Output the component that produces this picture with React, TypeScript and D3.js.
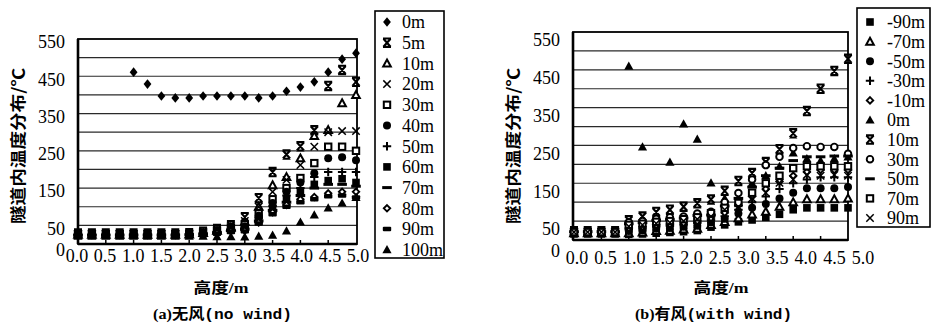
import React from 'react';
import * as d3 from 'd3';

// ---------- data ----------
const HEIGHTS = [0, 0.25, 0.5, 0.75, 1, 1.25, 1.5, 1.75, 2, 2.25, 2.5, 2.75, 3, 3.25, 3.5, 3.75, 4, 4.25, 4.5, 4.75, 5];
const X_TICKS = [0, 0.5, 1, 1.5, 2, 2.5, 3, 3.5, 4, 4.5, 5];
const Y_LABELS = [0, 50, 150, 250, 350, 450, 550];
const Y_GRID = [50, 100, 150, 200, 250, 300, 350, 400, 450, 500];

// (a) no wind
const A_NAMES = ['0m', '5m', '10m', '20m', '30m', '40m', '50m', '60m', '70m', '80m', '90m', '100m'];
const A_0m = [null, null, null, null, 461, 429, 397, 392, 392, 397, 397, 397, 397, 392, 397, 410, 421, 435, 461, 496, 512];
const A_5m = [28, 28, 28, 28, 28, 28, 28, 28, 29, 33, 40, 50, 72, 123, 193, 240, 262, 305, 424, 467, 435];
const A_10m = [25, 25, 25, 25, 25, 25, 25, 25, 26, 30, 36, 45, 60, 100, 158, 180, 230, 290, 306, 378, 400];
const A_20m = [27, 27, 27, 27, 27, 27, 27, 27, 28, 32, 38, 48, 62, 100, 140, 172, 212, 261, 300, 303, 303];
const A_30m = [26, 26, 26, 26, 26, 26, 26, 26, 27, 30, 35, 44, 52, 82, 120, 150, 177, 217, 261, 261, 250];
const A_40m = [26, 26, 26, 26, 26, 26, 26, 26, 27, 30, 35, 42, 47, 76, 110, 140, 165, 190, 230, 233, 225];
const A_50m = [25, 25, 25, 25, 25, 25, 25, 25, 26, 29, 33, 40, 44, 70, 102, 130, 150, 180, 193, 193, 193];
const A_60m = [25, 25, 25, 25, 25, 25, 25, 25, 26, 28, 32, 38, 42, 66, 96, 120, 140, 160, 170, 175, 165];
const A_70m = [24, 24, 24, 24, 24, 24, 24, 24, 25, 27, 31, 36, 40, 62, 90, 112, 130, 150, 160, 160, 155];
const A_80m = [24, 24, 24, 24, 24, 24, 24, 24, 25, 27, 30, 34, 36, 58, 85, 105, 120, 126, 136, 140, 140];
const A_90m = [23, 23, 23, 23, 23, 23, 23, 23, 24, 26, 28, 32, 34, 55, 80, 100, 112, 120, 128, 130, 125];
const A_100m = [21, 21, 21, 21, 21, 21, 21, 21, 21, 21, 20, 20, 19, 21, 24, 35, 59, 78, 97, 110, 125];

// (b) with wind
const B_NAMES = ['-90m', '-70m', '-50m', '-30m', '-10m', '0m', '10m', '30m', '50m', '70m', '90m'];
const B_m90 = [16, 16, 16, 16, 15, 16, 18, 20, 22, 25, 34, 40, 48, 53, 60, 68, 80, 85, 85, 85, 85];
const B_m70 = [18, 18, 18, 18, 18, 20, 24, 25, 28, 30, 40, 48, 58, 68, 75, 88, 100, 108, 108, 108, 110];
const B_m50 = [19, 19, 19, 19, 24, 26, 30, 32, 35, 38, 46, 56, 70, 85, 95, 110, 125, 137, 137, 137, 140];
const B_m30 = [20, 20, 20, 20, 28, 30, 35, 37, 40, 45, 52, 63, 80, 100, 115, 135, 150, 160, 166, 166, 166];
const B_m10 = [21, 21, 21, 21, 32, 35, 40, 42, 45, 50, 58, 72, 92, 115, 135, 155, 170, 180, 185, 185, 185];
const B_0 = [22, 22, 22, 22, 460, 246, 60, 206, 307, 267, 151, 110, 100, 150, 170, 195, 230, 215, 210, 215, 220];
const B_10 = [23, 23, 23, 23, 52, 62, 74, 80, 88, 97, 107, 130, 156, 177, 206, 240, 282, 341, 400, 447, 479];
const B_30 = [22, 22, 22, 22, 47, 50, 56, 60, 62, 70, 75, 100, 124, 160, 198, 220, 243, 248, 246, 246, 228];
const B_50 = [22, 22, 22, 22, 43, 46, 52, 54, 58, 65, 66, 90, 110, 140, 170, 190, 210, 220, 220, 222, 222];
const B_70 = [21, 21, 21, 21, 40, 43, 48, 50, 55, 60, 71, 85, 98, 125, 150, 170, 190, 195, 195, 195, 195];
const B_90 = [21, 21, 21, 21, 36, 40, 44, 46, 50, 55, 62, 80, 88, 110, 125, 151, 160, 172, 170, 172, 170];

const A_VALUES = [A_0m, A_5m, A_10m, A_20m, A_30m, A_40m, A_50m, A_60m, A_70m, A_80m, A_90m, A_100m];
const A_SHAPES = ['diamond', 'star', 'triO', 'times', 'squareO', 'circle', 'plus', 'square', 'dash', 'diamondO', 'bar', 'tri'];
const B_VALUES = [B_m90, B_m70, B_m50, B_m30, B_m10, B_0, B_10, B_30, B_50, B_70, B_90];
const B_SHAPES = ['square', 'triO', 'circle', 'plus', 'diamondO', 'tri', 'star', 'circleO', 'dash', 'squareO', 'times'];

const SERIF = '"Liberation Serif", "Times New Roman", serif';
const CJK = '"Liberation Serif", "Noto Sans CJK SC", serif';
const MONO = '"Liberation Mono", monospace';

function Marker({ shape, x, y }: { shape: string; x: number; y: number }) {
  const t = `translate(${x},${y})`;
  switch (shape) {
    case 'diamond':
      return <path transform={t} d="M0,-4.8L3.9,0L0,4.8L-3.9,0Z" fill="#000" />;
    case 'star':
      return <path transform={t} d="M-3.6,-4L3.6,4M-3.6,4L3.6,-4M-4,-4.2H4M-4,4.2H4M0,-2V2" stroke="#000" strokeWidth={2.1} fill="none" />;
    case 'triO':
      return <path transform={t} d="M0,-3.8L3.8,3.1L-3.8,3.1Z" fill="#fff" stroke="#000" strokeWidth={2} />;
    case 'tri':
      return <path transform={t} d="M0,-4.6L4.6,3.6L-4.6,3.6Z" fill="#000" />;
    case 'times':
      return <path transform={t} d="M-3.7,-3.7L3.7,3.7M-3.7,3.7L3.7,-3.7" stroke="#000" strokeWidth={1.5} fill="none" />;
    case 'squareO':
      return <rect transform={t} x={-3.2} y={-3.2} width={6.4} height={6.4} fill="#fff" stroke="#000" strokeWidth={2} />;
    case 'circle':
      return <circle transform={t} r={4} fill="#000" />;
    case 'circleO':
      return <circle transform={t} r={3.3} fill="#fff" stroke="#000" strokeWidth={1.9} />;
    case 'plus':
      return <path transform={t} d="M-4.2,0H4.2M0,-4.2V4.2" stroke="#000" strokeWidth={2} fill="none" />;
    case 'square':
      return <rect transform={t} x={-3.8} y={-3.8} width={7.6} height={7.6} fill="#000" />;
    case 'dash':
      return <rect transform={t} x={-4.8} y={-1.5} width={9.6} height={3} fill="#000" />;
    case 'diamondO':
      return <path transform={t} d="M0,-3.2L3.2,0L0,3.2L-3.2,0Z" fill="#fff" stroke="#000" strokeWidth={1.9} />;
    case 'bar':
      return <rect transform={t} x={-4.2} y={-2.2} width={8.4} height={4.4} rx={1} fill="#000" />;
    default:
      return null;
  }
}

type PanelProps = {
  left: number; right: number; top: number; bottom: number;
  xRange: [number, number]; labelRange: [number, number];
  labelY: number; yLabelOff: number;
  values: (number | null)[][]; shapes: string[]; names: string[];
  legend: { x: number; y: number; w: number; h: number; mx: number; tx: number; y0: number; step: number };
  yTitleX: number; xTitleX: number; subX: number; subW: number; subA: string; subB: string; subC: string;
};

function Panel(p: PanelProps) {
  const x = d3.scaleLinear().domain([0, 5]).range(p.xRange);
  const xl = d3.scaleLinear().domain([0, 5]).range(p.labelRange);
  const y = d3.scaleLinear().domain([0, 550]).range([p.bottom, p.top]);
  return (
    <g>
      {Y_GRID.map((v) => (
        <line key={'g' + v} x1={p.left} x2={p.right} y1={y(v)} y2={y(v)} stroke="#2a2a2a" strokeWidth={1.2} />
      ))}
      <rect x={p.left} y={p.top} width={p.right - p.left} height={p.bottom - p.top} fill="none" stroke="#000" strokeWidth={1.8} />
      <line x1={p.left} x2={p.left} y1={p.top} y2={p.bottom} stroke="#000" strokeWidth={2.6} />
      <line x1={p.left} x2={p.right} y1={p.bottom} y2={p.bottom} stroke="#000" strokeWidth={2.6} />
      {X_TICKS.slice(1, -1).map((v) => (
        <line key={'t' + v} x1={x(v)} x2={x(v)} y1={p.bottom} y2={p.bottom - 4} stroke="#000" strokeWidth={1.5} />
      ))}
      {Y_LABELS.map((v) => (
        <text key={'yl' + v} x={p.left - 13} y={y(v) + p.yLabelOff + (v === 0 ? 3 : 0)} dy="0.35em" textAnchor="end"
          style={{ fontFamily: SERIF, fontSize: 18 }} fill="#000">{v}</text>
      ))}
      {X_TICKS.map((v) => (
        <text key={'xl' + v} x={xl(v)} y={p.labelY} textAnchor="middle" style={{ fontFamily: SERIF, fontSize: 18 }} fill="#000">
          {v.toFixed(1)}
        </text>
      ))}
      {p.values.map((vals, si) => (
        <g key={'s' + si}>
          {vals.map((v, i) => (v == null ? null : <Marker key={i} shape={p.shapes[si]} x={x(HEIGHTS[i])} y={y(v)} />))}
        </g>
      ))}
      <rect x={p.legend.x} y={p.legend.y} width={p.legend.w} height={p.legend.h} fill="#fff" stroke="#000" strokeWidth={1.6} />
      {p.names.map((n, i) => (
        <g key={'lg' + n}>
          <Marker shape={p.shapes[i]} x={p.legend.mx} y={p.legend.y0 + i * p.legend.step} />
          <text x={p.legend.tx} y={p.legend.y0 + i * p.legend.step} dy="0.35em" style={{ fontFamily: SERIF, fontSize: 18 }} fill="#000">{n}</text>
        </g>
      ))}
      <text transform={`translate(${p.yTitleX},146) rotate(-90)`} textAnchor="middle" dy="0.35em"
        style={{ fontFamily: '"Noto Sans CJK SC", sans-serif', fontWeight: 700, fontSize: 16 }} textLength={156} lengthAdjust="spacingAndGlyphs" fill="#000">
        隧道内温度分布/℃
      </text>
      <text x={p.xTitleX} y={293} textAnchor="middle" style={{ fontFamily: CJK, fontWeight: 700, fontSize: 15 }} textLength={55} lengthAdjust="spacingAndGlyphs" fill="#000">
        高度/m
      </text>
      <text x={p.subX} y={319} style={{ fontFamily: CJK, fontWeight: 700, fontSize: 15 }} textLength={p.subW} lengthAdjust="spacingAndGlyphs" fill="#000">
        <tspan>{p.subA}</tspan>
        <tspan>{p.subB}</tspan>
        <tspan style={{ fontFamily: MONO }}>{p.subC}</tspan>
      </text>
    </g>
  );
}

export default function App() {
  return (
    <svg width={934} height={330} style={{ position: 'absolute', left: 0, top: 0, background: '#fff' }}>
      <rect x={0} y={0} width={934} height={330} fill="#fff" />
      <Panel left={78} right={357} top={39} bottom={244} xRange={[78, 356]} labelRange={[77, 358]} labelY={262} yLabelOff={3}
        values={A_VALUES} shapes={A_SHAPES} names={A_NAMES}
        legend={{ x: 375, y: 11, w: 69, h: 247, mx: 387, tx: 402, y0: 22, step: 20.7 }}
        yTitleX={18} xTitleX={221} subX={153} subW={139} subA="(a)" subB="无风" subC="(no wind)" />
      <Panel left={573} right={848} top={32} bottom={240} xRange={[574, 848]} labelRange={[577, 863]} labelY={264} yLabelOff={8}
        values={B_VALUES} shapes={B_SHAPES} names={B_NAMES}
        legend={{ x: 857, y: 8, w: 73, h: 219, mx: 870, tx: 887, y0: 22, step: 19.6 }}
        yTitleX={513} xTitleX={721} subX={635} subW={157} subA="(b)" subB="有风" subC="(with wind)" />
    </svg>
  );
}
